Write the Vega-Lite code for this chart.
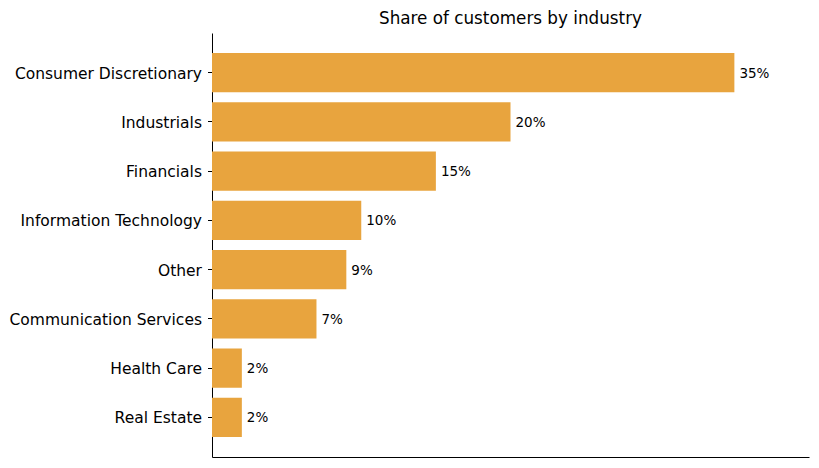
{
  "$schema": "https://vega.github.io/schema/vega-lite/v6.json",
  "autosize": {"type": "none"},
  "padding": {"left": 212, "top": 33, "right": 10, "bottom": 11},
  "width": 597,
  "height": 424,
  "background": "white",
  "title": {
    "text": "Share of customers by industry",
    "fontSize": 16.8,
    "fontWeight": "normal",
    "font": "DejaVu Sans",
    "color": "black",
    "offset": 5
  },
  "config": {
    "view": {"stroke": null},
    "font": "DejaVu Sans"
  },
  "data": {
    "values": [
      {"industry": "Consumer Discretionary", "share": 35},
      {"industry": "Industrials", "share": 20},
      {"industry": "Financials", "share": 15},
      {"industry": "Information Technology", "share": 10},
      {"industry": "Other", "share": 9},
      {"industry": "Communication Services", "share": 7},
      {"industry": "Health Care", "share": 2},
      {"industry": "Real Estate", "share": 2}
    ]
  },
  "encoding": {
    "y": {
      "field": "industry",
      "type": "nominal",
      "sort": null,
      "scale": {"paddingInner": 0.2, "paddingOuter": 0.405},
      "axis": {
        "title": null,
        "labelFontSize": 15.5,
        "labelColor": "black",
        "labelPadding": 6,
        "labelLimit": 300,
        "labelOffset": 1,
        "tickSize": 4.5,
        "tickColor": "black",
        "domainColor": "black",
        "grid": false
      }
    },
    "x": {
      "field": "share",
      "type": "quantitative",
      "scale": {"domain": [0, 40], "nice": false},
      "axis": {
        "title": null,
        "labels": false,
        "ticks": false,
        "grid": false,
        "domainColor": "black"
      }
    }
  },
  "layer": [
    {
      "mark": {"type": "bar", "color": "#E8A43E"}
    },
    {
      "transform": [{"calculate": "datum.share + '%'", "as": "label"}],
      "mark": {"type": "text", "align": "left", "dx": 5, "dy": 1, "fontSize": 13.5, "color": "black"},
      "encoding": {
        "text": {"field": "label", "type": "nominal"}
      }
    }
  ]
}
